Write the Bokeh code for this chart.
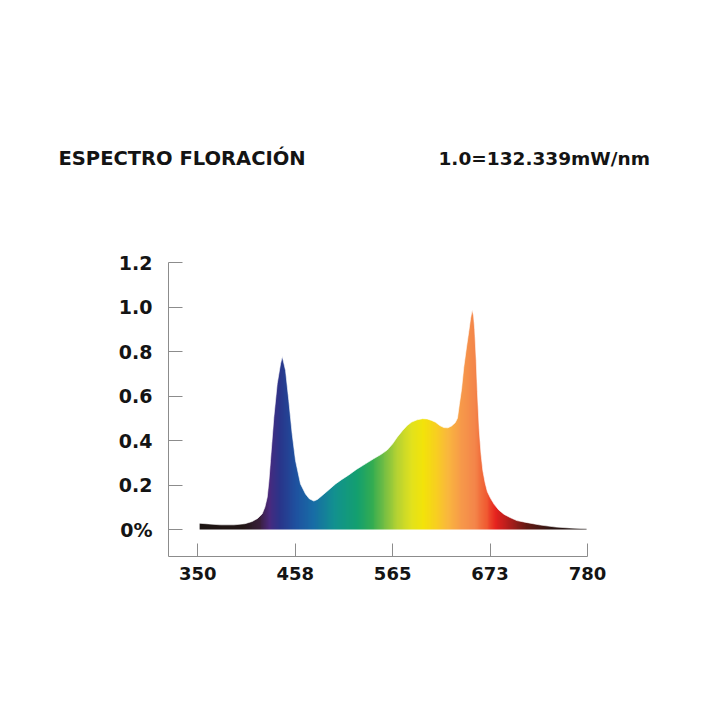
import numpy as np
from bokeh.plotting import figure
from bokeh.layouts import column
from bokeh.models import Range1d, FixedTicker
from bokeh.core.properties import value
from bokeh.embed import file_html
from bokeh.resources import INLINE

title_text = "ESPECTRO FLORACIÓN"
scale_text = "1.0=132.339mW/nm"

x_tick_values = [350, 457.5, 565, 672.5, 780]
x_tick_labels = ["350", "458", "565", "673", "780"]
y_tick_values = [0, 0.2, 0.4, 0.6, 0.8, 1.0, 1.2]
y_tick_labels = ["0%", "0.2", "0.4", "0.6", "0.8", "1.0", "1.2"]

wavelength_nm = [352, 362, 375, 390, 402, 410, 416, 421, 424, 426.6, 428.5, 430.2,
                 433.9, 437.6, 441.3, 443.2, 446.8, 450.4, 454.1, 457.8, 463.3, 468.8,
                 473, 478, 482, 487.3, 495, 502, 509, 516.6, 525, 535, 544, 552, 559,
                 565, 570, 576, 581, 586, 592, 598, 603, 608, 612.3, 617, 621.5, 626,
                 630, 634, 636.5, 638.5, 641, 643.5, 646.5, 649, 651, 652.8, 654.3,
                 655.5, 657.2, 658.5, 660.5, 662.5, 664.5, 667, 669.5, 673, 677, 682,
                 688, 695, 702, 712, 728, 745, 760, 780]
relative_power = [0.028, 0.025, 0.021, 0.021, 0.026, 0.036, 0.05, 0.07, 0.10, 0.145,
                  0.22, 0.31, 0.505, 0.655, 0.745, 0.777, 0.715, 0.58, 0.43, 0.31,
                  0.205, 0.16, 0.138, 0.128, 0.135, 0.153, 0.18, 0.205, 0.225, 0.245,
                  0.27, 0.295, 0.318, 0.337, 0.357, 0.385, 0.415, 0.445, 0.467, 0.483,
                  0.493, 0.498, 0.497, 0.49, 0.482, 0.467, 0.458, 0.457, 0.465, 0.48,
                  0.50, 0.56, 0.63, 0.73, 0.82, 0.89, 0.95, 0.988, 0.96, 0.90, 0.76,
                  0.62, 0.45, 0.34, 0.265, 0.21, 0.17, 0.14, 0.113, 0.088, 0.068,
                  0.053, 0.04, 0.032, 0.02, 0.011, 0.007, 0.003]

# wavelength colour stops for the fill gradient
stop_nm = [352, 400, 418, 428, 440, 458, 478, 500, 525, 542, 556, 570, 585, 598,
           612, 625, 640, 655, 668, 678, 692, 712, 740, 780]
stop_colors = ["#1c1412", "#221616", "#3a1f3c", "#4a2a7e", "#2a358a", "#1f52a0",
               "#186ea6", "#12918f", "#14a070", "#34ad52", "#78c043", "#b8d432",
               "#e2e21e", "#f3e40a", "#f8d020", "#fab83e", "#f79a4a", "#f4864a",
               "#f05a32", "#e6231f", "#b41e1c", "#641a14", "#2c1512", "#1c1412"]

FONT = "DejaVu Sans"
INK = "#141414"

# header with the two titles
header = figure(frame_width=720, frame_height=240, width=720, height=240,
                min_border=0, x_range=Range1d(0, 720), y_range=Range1d(240, 0),
                x_axis_type=None, y_axis_type=None, output_backend="svg",
                toolbar_location=None, outline_line_color=None,
                background_fill_color="white", border_fill_color="white")
header.frame_align = False
header.grid.visible = False
header.text(x=[58], y=[157.5], text=[title_text], text_font=value(FONT),
            text_font_style="bold", text_font_size="19.5px", text_color=INK,
            text_align="left", text_baseline="alphabetic")
header.text(x=[438], y=[157.5], text=[scale_text], text_font=value(FONT),
            text_font_style="bold", text_font_size="18.5px", text_color=INK,
            text_align="left", text_baseline="alphabetic")

p = figure(frame_width=419, frame_height=294,
           min_border_left=168, min_border_right=133,
           min_border_top=22, min_border_bottom=164,
           x_range=Range1d(317.65, 780), y_range=Range1d(-0.1213, 1.2),
           output_backend="svg", toolbar_location=None,
           background_fill_color="white", border_fill_color="white",
           outline_line_color=None)
p.frame_align = False

# gradient image (colour by wavelength), then white mask above the curve
x0, x1 = wavelength_nm[0], wavelength_nm[-1] - 1
ncol = int(x1 - x0) + 1
cols_nm = np.linspace(x0, x1, ncol)
rgb = np.array([[int(c[i:i + 2], 16) for i in (1, 3, 5)] for c in stop_colors], dtype=float)
r = np.interp(cols_nm, stop_nm, rgb[:, 0]).astype(np.uint32)
g = np.interp(cols_nm, stop_nm, rgb[:, 1]).astype(np.uint32)
b = np.interp(cols_nm, stop_nm, rgb[:, 2]).astype(np.uint32)
row = (255 << 24) | (b << 16) | (g << 8) | r
img = np.tile(row, (4, 1)).astype(np.uint32)
top = max(relative_power) + 0.03
p.image_rgba(image=[img], x=x0, y=0, dw=x1 - x0, dh=top)

mask_x = [x0 - 1, x0 - 1] + wavelength_nm + [wavelength_nm[-1] + 2, wavelength_nm[-1] + 2]
mask_y = [top + 0.05, relative_power[0]] + relative_power + [relative_power[-1], top + 0.05]
p.patch(mask_x, mask_y, fill_color="white", line_color="white", line_width=0.6)

# axes
for ax in (p.xaxis[0], p.yaxis[0]):
    ax.axis_line_color = "#8c8c8c"
    ax.axis_line_width = 1
    ax.major_tick_line_color = "#8c8c8c"
    ax.major_tick_out = 0
    ax.minor_tick_line_color = None
    ax.major_label_text_font = FONT
    ax.major_label_text_font_style = "bold"
    ax.major_label_text_color = INK

p.xaxis.ticker = FixedTicker(ticks=x_tick_values)
p.xaxis.major_label_overrides = {v: t for v, t in zip(x_tick_values, x_tick_labels)}
p.xaxis.major_tick_in = 13
p.xaxis.major_label_text_font_size = "18px"
p.xaxis.major_label_standoff = 10
p.yaxis.ticker = FixedTicker(ticks=y_tick_values)
p.yaxis.major_label_overrides = {v: t for v, t in zip(y_tick_values, y_tick_labels)}
p.yaxis.major_tick_in = 14
p.yaxis.major_label_text_font_size = "19px"
p.yaxis.major_label_standoff = 16
p.grid.visible = False

layout = column(header, p, spacing=0)
open("out.html", "w").write(file_html(layout, INLINE))
